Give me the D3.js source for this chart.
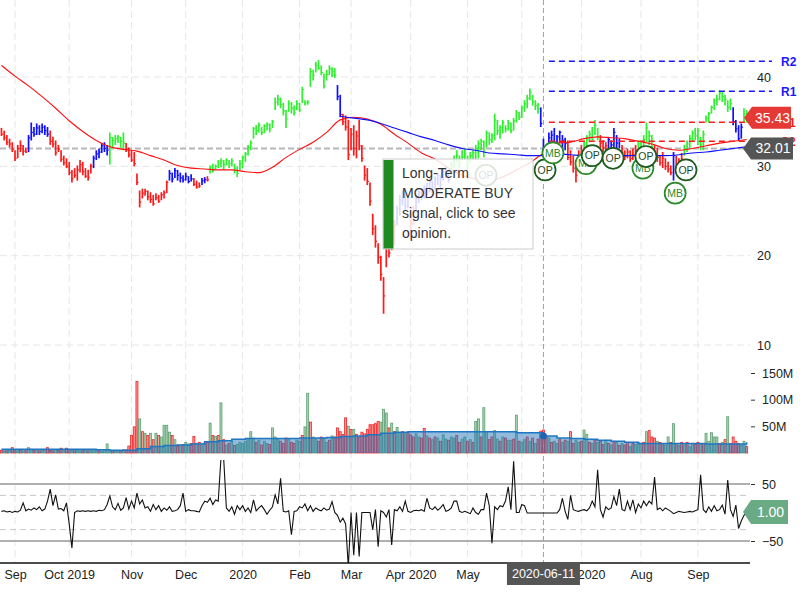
<!DOCTYPE html>
<html><head><meta charset="utf-8">
<script src="https://cdn.jsdelivr.net/npm/d3@7"></script>
<style>
body{margin:0;background:#fff;}
svg{display:block;font-family:"Liberation Sans",Arial,sans-serif;}
</style></head><body>
<svg id="c" width="800" height="600"></svg>
<script>
// ---------- DATA ----------
const monthTickIdx = [5,25,48,68,89,110,129,151,172,192,214,236,257];
// "Jun" sits under the crosshair date tag in the reference, so it is not shown
const monthTickLabels = ["Sep","Oct 2019","Nov","Dec","2020","Feb","Mar","Apr 2020","May","","Jul 2020","Aug","Sep"];
const priceTicks = [10,20,30,40];
const volTicks = [50,100,150];
const oscTicks = [-50,50];
const oscDashed = [-30,30];

const high = [34.3,34.0,33.5,33.1,32.7,31.8,32.4,32.9,32.4,32.1,
33.5,34.9,34.4,34.8,34.6,34.8,34.6,34.4,34.0,33.3,
32.9,32.4,31.8,31.2,30.9,30.5,29.6,29.8,30.1,30.7,
30.5,29.8,29.6,30.3,31.2,31.8,32.0,32.6,32.7,32.4,
33.8,33.3,33.5,33.5,33.3,33.8,32.6,32.1,31.8,31.6,
29.2,27.3,27.5,27.5,27.3,27.1,26.8,27.0,26.8,27.1,
27.3,28.4,29.6,29.3,29.8,29.6,29.3,29.0,29.3,28.9,
29.1,28.7,28.4,28.2,28.7,28.8,28.9,30.1,30.3,30.2,
30.7,30.9,30.7,30.9,30.7,30.9,30.3,30.0,30.7,31.2,
31.6,32.4,32.9,34.4,34.6,34.9,34.4,34.7,34.9,34.8,
35.2,37.7,38.0,37.7,37.1,36.3,37.4,37.2,36.8,37.4,
37.1,38.9,37.4,37.4,41.0,40.8,41.7,41.9,41.3,40.4,
40.8,41.3,41.1,41.0,39.1,38.0,35.9,35.7,35.2,34.3,
34.6,34.0,35.2,32.4,30.1,29.8,28.2,24.7,23.4,21.4,
20.0,17.6,22.8,22.3,22.5,24.0,25.6,26.8,27.3,27.0,
26.8,24.7,25.6,26.8,27.3,27.5,27.9,28.2,28.7,28.4,
28.9,29.3,29.0,29.8,30.0,29.6,30.5,31.2,31.8,31.2,
31.8,32.0,31.2,31.6,31.8,32.4,32.9,33.1,32.9,34.0,
33.8,33.7,35.9,35.2,34.6,35.2,34.6,35.2,34.9,35.4,
36.3,36.1,36.8,37.4,38.0,38.7,38.0,37.4,37.1,36.6,
33.1,32.4,33.8,34.0,34.3,33.5,34.0,33.5,33.2,32.9,
31.8,31.2,30.7,31.8,32.4,32.9,33.5,34.0,34.4,35.2,
34.3,33.5,32.9,32.7,33.3,32.9,34.3,33.5,33.1,32.4,
31.8,32.0,31.8,32.0,32.4,32.9,32.9,33.5,34.9,34.0,
33.5,32.4,32.1,31.2,31.6,30.9,30.5,30.1,31.6,31.2,
30.9,31.5,32.4,32.9,33.5,34.0,34.3,34.3,33.3,34.0,
35.7,36.1,36.8,37.6,38.0,38.5,38.3,38.0,37.4,37.6,
36.6,35.2,34.6,34.8,36.5,36.3];
const low = [33.4,32.9,32.4,32.1,31.6,30.6,30.9,31.6,31.2,31.5,
31.6,32.9,33.3,33.5,33.5,33.7,33.5,33.3,32.4,32.1,
31.2,31.6,30.5,30.1,29.8,29.0,28.2,28.7,28.4,29.3,
29.0,28.7,28.4,29.2,29.8,30.7,30.9,31.5,31.6,31.2,
30.2,32.1,32.4,32.6,32.1,31.8,31.6,31.0,30.5,30.0,
27.9,25.4,26.4,26.7,26.2,25.9,25.6,26.2,25.9,26.2,
26.4,27.0,28.4,28.2,28.7,28.4,28.2,28.2,28.4,28.1,
28.3,27.8,27.5,27.6,27.9,28.1,28.3,29.2,29.3,29.6,
29.8,29.9,29.6,30.1,29.8,30.0,29.2,28.8,29.6,29.8,
30.5,31.2,31.8,33.1,33.5,33.8,33.5,33.7,34.0,33.8,
34.3,36.3,36.8,36.5,35.7,34.3,36.1,35.9,35.7,36.3,
36.1,37.1,36.8,36.9,38.9,39.6,40.5,40.8,40.2,38.7,
39.6,40.2,40.0,39.9,37.4,35.5,34.6,34.0,30.7,31.8,
31.2,30.9,31.8,30.5,28.4,27.9,25.6,22.3,20.9,19.1,
17.2,13.5,18.7,19.8,20.6,21.2,23.4,24.5,25.6,25.1,
25.3,21.7,23.4,25.1,25.9,26.2,26.4,26.8,27.1,26.8,
27.3,27.9,27.5,28.4,28.7,28.2,29.0,29.8,30.5,29.8,
30.7,30.7,29.6,30.5,30.7,30.7,30.9,31.8,31.0,32.1,
32.4,32.6,32.9,33.5,33.1,33.7,33.8,34.0,33.7,34.0,
34.9,35.2,35.4,36.1,36.5,37.4,36.8,36.3,35.9,34.4,
31.0,30.7,31.8,32.7,32.4,32.0,32.6,32.0,31.8,30.7,
30.1,29.3,28.2,30.1,30.7,31.2,31.8,32.7,32.9,33.5,
32.9,32.0,31.6,31.6,31.8,31.6,32.1,31.8,32.0,31.0,
30.7,30.9,30.5,30.7,31.2,31.2,31.6,31.8,32.7,32.4,
31.8,30.9,30.5,30.1,29.8,29.6,29.3,29.0,28.4,29.8,
29.8,30.1,31.2,31.6,32.0,32.7,32.9,32.4,31.8,31.8,
34.9,34.9,35.9,36.3,36.8,37.4,37.2,36.8,36.1,36.3,
34.6,33.8,32.9,33.1,34.9,34.9];
const close = [33.6,33.2,32.7,32.5,31.9,30.9,32.0,32.3,31.7,31.6,
33.2,33.8,33.6,34.3,33.9,34.4,34.0,33.6,32.8,32.5,
31.5,31.9,30.8,30.4,30.0,29.3,28.6,29.0,29.6,30.2,
29.4,28.9,28.8,30.0,30.9,31.4,31.6,32.3,32.0,31.8,
33.2,32.9,33.1,33.3,32.8,32.6,31.9,31.3,30.7,30.3,
28.2,26.0,27.0,27.2,26.6,26.3,25.8,26.5,26.1,26.8,
27.0,28.2,29.2,28.6,29.5,29.0,28.7,28.5,28.9,28.3,
28.6,28.0,27.7,27.8,28.4,28.5,28.5,29.8,29.6,30.0,
30.4,30.6,30.2,30.7,30.3,30.6,29.8,29.2,30.3,31.0,
31.4,32.1,32.6,34.2,34.0,34.6,33.8,34.5,34.7,34.2,
35.0,37.2,37.5,36.9,36.2,35.3,37.0,36.5,36.0,37.0,
36.3,38.6,37.1,37.2,40.6,40.2,41.3,41.0,40.5,39.0,
40.3,40.9,40.6,40.2,37.8,35.8,35.0,34.4,31.3,33.6,
32.0,33.4,32.3,30.9,29.0,28.3,26.1,23.0,21.6,19.8,
17.9,15.5,21.2,20.3,21.9,23.4,25.2,26.1,26.8,25.6,
26.5,23.6,24.8,26.4,27.0,26.6,27.4,27.6,28.3,27.2,
28.6,29.0,28.0,29.4,29.1,28.5,30.1,30.8,31.2,30.3,
31.0,31.4,30.4,31.2,31.5,32.0,32.5,32.8,31.6,33.7,
33.0,33.4,35.2,34.0,34.3,34.9,34.2,34.8,34.0,35.1,
36.0,35.5,36.5,37.0,37.6,38.3,37.2,36.8,36.4,34.8,
32.01,31.2,33.2,33.5,32.7,33.3,33.8,32.9,32.6,31.0,
30.5,29.8,29.0,31.0,31.6,32.5,33.0,33.6,33.0,34.6,
33.3,32.6,32.1,32.3,33.0,32.4,33.8,32.6,32.8,31.5,
31.1,31.6,30.9,31.3,31.8,32.5,32.2,33.0,34.3,33.4,
32.8,31.5,31.0,30.4,30.9,30.0,29.7,29.3,31.2,30.3,
30.0,30.8,31.9,32.5,33.1,33.7,33.4,34.0,32.4,33.6,
35.4,35.9,36.6,37.4,37.5,38.2,37.8,37.5,36.6,37.0,
35.0,34.2,33.1,34.4,35.9,35.43];
const barColorRuns = [["r",10],["b",8],["r",16],["b",6],["g",6],["r",16],["b",9],["r",3],["b",2],["r",1],
["g",47],["b",2],["r",20],["b",5],["r",2],["b",13],["g",33],["b",10],["r",6],["g",6],["r",3],["b",5],
["r",6],["g",6],["r",7],["b",1],["r",3],["g",18],["b",4],["g",2]];

const volume = [5,4,6,5,10,6,4,5,4,6, 10,7,5,6,4,5,7,10,5,4, 6,5,9,6,9,7,5,6,5,4,
6,5,4,5,6,4,5,3,4,17, 5,4,3,5,4,6,6,13,33,49, 134,64,40,37,33,37,25,37,33,30,
52,52,39,33,25,15,14,16,20,17, 18,31,18,20,17,19,20,56,33,31, 33,94,25,15,18,22,14,16,20,18,
22,25,40,28,20,24,15,22,18,16, 47,30,25,22,18,28,25,20,18,24, 22,33,49,112,58,30,25,22,30,28,
20,24,32,30,47,40,35,66,50,44, 44,35,30,39,36,44,53,53,55,59, 58,82,75,47,56,40,48,38,40,36,
38,34,30,36,30,28,46,32,28,25, 30,28,22,34,26,24,30,28,33,20, 26,30,22,25,20,59,64,30,85,40,
25,30,42,26,22,30,28,24,24,26, 71,22,20,25,30,22,28,18,26,41, 43,30,28,20,22,18,25,20,24,22,
40,18,24,20,22,43,35,20,18,24, 20,22,16,24,18,15,22,20,14,18, 15,20,12,18,16,20,18,20,40,42,
30,28,22,20,18,15,30,20,55,18, 14,20,15,20,12,18,16,20,16,18, 37,22,38,30,30,18,20,25,68,18,
30,22,18,14,22,12];
const volumeUpDown = "rgrgrrgrgr"+"ggrgrggrrr"+"grrgrrgrgg"+"rgrgggrggg"+"grggrgrrrr"+"rgrgrgrgrg"+
"gggrgrgrgg"+"rrgrggrgrg"+"rgrgrgrggg"+"ggggrgrggr"+"gggrrrgrrg"+"grggrggrrg"+"grgrrrrrgr"+
"grrrrrrrrr"+"gggrgrggrg"+"rrrggrrgrg"+"rgrggrggrr"+"ggrgrggrgg"+"rrggrgrggr"+"grggrgrgrr"+
"rrgrggrgrg"+"rrggrggrgr"+"grrgrgrgrg"+"rrgrgggrgr"+"rrgrrggrgr"+"grgrggrrgr"+"gggggrgrgr"+"rrrggr";
const sampleStep = 5;
const avgVolume = [7,7,7,7,7,7,7,6,5,5, 8,12,14,15,17,21,23,26,27,27, 27,27,28,28,29,31,32,34,37,39,
40,40,40,40,40,40,40,40,38,38, 32,28,27,26,24,22,20,18,18,18, 18,18,17,17,17,20];
const maShort = [41.3,40.1,39.0,37.8,36.5,35.1,33.9,32.9,32.2,31.9, 31.7,31.2,30.7,30.1,29.8,29.7,29.6,29.6,29.4,29.3,
29.9,31.0,31.9,32.7,33.8,35.2,35.5,35.3,34.7,33.6, 32.6,31.5,30.8,29.8,29.0,28.6,28.4,28.8,29.6,30.4,
31.5,32.6,32.7,33.1,33.3,33.2,33.1,32.8,32.5,32.0, 31.8,32.0,32.3,32.6,32.8,33.0];
const maLongStart = 125;
const maLong = [35.6,35.4,35.2,34.8,34.3,33.8,33.3,32.9,32.4,32.0,31.8,31.5,31.4,31.3,31.2,31.2,31.4,31.3,31.2,31.2,
31.2,31.2,31.2,31.2,31.2,31.3,31.5,31.6,31.8,32.0,32.2];
const osc = [2,3,1,2,0,2,1,4,17,3, 6,4,8,5,10,3,6,20,41,12, 31,6,7,3,17,-20,-62,0,3,2,
3,2,3,2,3,2,4,3,5,14, 29,10,5,16,4,8,26,6,20,8, 34,15,22,8,10,2,14,5,12,2,
8,4,10,2,3,5,12,34,2,5, 3,3,2,1,12,20,18,25,14,22, 20,95,95,8,2,10,-3,12,5,12,
2,8,0,22,3,8,12,5,-3,4, 10,31,15,60,2,1,3,-39,2,3, 10,8,15,3,12,2,8,5,3,8,
4,6,19,0,-5,-17,-10,-20,-95,0, -75,0,-77,0,0,0,0,-30,5,-60, 3,0,-8,5,-57,5,3,10,2,20,
2,0,3,4,3,5,2,25,8,5, 10,4,8,14,2,4,8,20,20,2, 0,2,0,-2,8,0,-3,5,5,34,
12,-54,10,5,12,10,20,45,5,90, 0,0,14,12,-1,-1,-1,-1,-1,-1, -1,-1,-1,-1,-1,-1,5,25,2,-12,
30,5,3,2,4,5,3,8,20,10, 75,5,-8,10,5,8,28,12,41,5, 3,20,5,22,0,15,8,20,12,20,
15,62,5,8,3,8,5,2,-2,0, 2,1,0,1,2,1,3,5,66,5, 0,10,2,12,3,5,13,-3,57,5,
-7,13,-28,-15,-5,1];

const markerIdx = [178.8,200.6,203.5,215.7,218,225.7,236.7,237.8,248.6,252.6];
const markerType = ["OP","OP","MB","MB","OP","OP","MB","OP","MB","OP"];
const markerPrice = [29.0,29.6,31.5,30.3,31.2,30.9,29.8,31.1,27.0,29.6];

const levelNames = ["R2","R1","S1","S2"];
const levelValues = [41.77,38.41,34.94,32.81];
const levelKinds = ["R","R","S","S"];
const levelStartIdx = 202;

const crossIdx = 200;
const crossDate = "2020-06-11";
const tipLines = ["Long-Term","MODERATE BUY","signal, click to see","opinion."];

// ---------- SCALES ----------
const svg = d3.select("#c");
const x = d3.scaleLinear().domain([0,275]).range([1.45,746.7]);
const yP = d3.scaleLinear().domain([10,40]).range([345,77]);
const yV = d3.scaleLinear().domain([0,150]).range([453,373]);
const yO = d3.scaleLinear().domain([-50,50]).range([541,484]);
const PLOT_R = 750;
const colors = {r:"#ff1a1a", g:"#2ef02e", b:"#1010ff"};
const barColor = barColorRuns.flatMap(([c,n]) => Array(n).fill(c));

const defs = svg.append("defs");
defs.append("clipPath").attr("id","oscClip").append("rect").attr("x",0).attr("y",460).attr("width",PLOT_R).attr("height",103);

// ---------- GRID ----------
const grid = svg.append("g");
grid.selectAll(".vg").data(monthTickIdx).join("line")
  .attr("x1",d=>x(d)).attr("x2",d=>x(d)).attr("y1",0).attr("y2",563)
  .attr("stroke","#e6e6e6").attr("stroke-dasharray","7,4");
grid.selectAll(".hg").data(priceTicks).join("line")
  .attr("x1",0).attr("x2",PLOT_R).attr("y1",d=>yP(d)).attr("y2",d=>yP(d))
  .attr("stroke","#e6e6e6").attr("stroke-dasharray","7,4");
grid.selectAll(".og").data(oscTicks).join("line")
  .attr("x1",0).attr("x2",PLOT_R).attr("y1",d=>yO(d)).attr("y2",d=>yO(d))
  .attr("stroke","#b0b0b0").attr("stroke-width",2);
grid.selectAll(".od").data(oscDashed).join("line")
  .attr("x1",0).attr("x2",PLOT_R).attr("y1",d=>yO(d)).attr("y2",d=>yO(d))
  .attr("stroke","#c8c8c8").attr("stroke-dasharray","6,4");

// crosshair
svg.append("line").attr("x1",x(crossIdx)).attr("x2",x(crossIdx)).attr("y1",0).attr("y2",563)
  .attr("stroke","#a0a0a0").attr("stroke-dasharray","5,3");
svg.append("line").attr("x1",0).attr("x2",PLOT_R).attr("y1",yP(close[crossIdx])).attr("y2",yP(close[crossIdx]))
  .attr("stroke","#b8b8b8").attr("stroke-width",2).attr("stroke-dasharray","6,3");

// ---------- VOLUME ----------
const vg = svg.append("g");
vg.selectAll("rect").data(volume).join("rect")
  .attr("x",(d,i)=>x(i)-1).attr("width",2)
  .attr("y",d=>yV(d)).attr("height",d=>yV(0)-yV(d))
  .attr("fill",(d,i)=>volumeUpDown[i]==="g"?"rgba(150,205,165,0.85)":"rgba(255,120,120,0.75)")
  .attr("stroke",(d,i)=>volumeUpDown[i]==="g"?"#5f9f72":"#ee2222").attr("stroke-width",0.8);
const avgPts = avgVolume.map((v,i)=>[i*sampleStep,v]);
vg.append("path").datum(avgPts)
  .attr("d",d3.area().x(d=>x(d[0])).y0(yV(0)).y1(d=>yV(d[1])).curve(d3.curveStepAfter))
  .attr("fill","rgba(40,120,190,0.5)");
vg.append("path").datum(avgPts)
  .attr("d",d3.line().x(d=>x(d[0])).y(d=>yV(d[1])).curve(d3.curveStepAfter))
  .attr("fill","none").attr("stroke","#1f77c4").attr("stroke-width",1.5);
vg.append("circle").attr("cx",x(crossIdx)).attr("cy",yV(avgVolume[crossIdx/sampleStep])).attr("r",3.5).attr("fill","#1f66b0");

// ---------- OSCILLATOR ----------
svg.append("path").datum(osc).attr("clip-path","url(#oscClip)")
  .attr("d",d3.line().x((d,i)=>x(i)).y(d=>yO(d)))
  .attr("fill","none").attr("stroke","#111").attr("stroke-width",1.1);

// ---------- PRICE BARS ----------
const pg = svg.append("g");
pg.selectAll("line.hl").data(high).join("line")
  .attr("x1",(d,i)=>x(i)).attr("x2",(d,i)=>x(i))
  .attr("y1",d=>yP(d)).attr("y2",(d,i)=>yP(low[i]))
  .attr("stroke",(d,i)=>colors[barColor[i]]).attr("stroke-width",1.7);
pg.selectAll("line.cl").data(close).join("line")
  .attr("x1",(d,i)=>x(i)).attr("x2",(d,i)=>x(i)+1.6)
  .attr("y1",d=>yP(d)).attr("y2",d=>yP(d))
  .attr("stroke",(d,i)=>colors[barColor[i]]).attr("stroke-width",1.2);

// ---------- MOVING AVERAGES ----------
svg.append("path").datum(maShort)
  .attr("d",d3.line().x((d,i)=>x(i*sampleStep)).y(d=>yP(d)).curve(d3.curveMonotoneX))
  .attr("fill","none").attr("stroke","#ff1010").attr("stroke-width",1.1);
svg.append("path").datum(maLong)
  .attr("d",d3.line().x((d,i)=>x(maLongStart+i*sampleStep)).y(d=>yP(d)).curve(d3.curveMonotoneX))
  .attr("fill","none").attr("stroke","#1010ff").attr("stroke-width",1.1);

// ---------- LEVELS ----------
const lg = svg.append("g");
levelValues.forEach((v,i)=>{
  const col = levelKinds[i]==="R" ? "#1818ff" : "#ff1a1a";
  lg.append("line").attr("x1",x(levelStartIdx)).attr("x2",772).attr("y1",yP(v)).attr("y2",yP(v))
    .attr("stroke",col).attr("stroke-width",1.5).attr("stroke-dasharray","6,4");
  lg.append("text").attr("x",781).attr("y",yP(v)).attr("dy","0.36em")
    .attr("font-size",12).attr("font-weight","bold").attr("fill",col).text(levelNames[i]);
});

// ---------- MARKERS ----------
const mg = svg.append("g");
markerIdx.forEach((m,i)=>{
  const isOP = markerType[i]==="OP";
  const g = mg.append("g").attr("transform",`translate(${x(m)},${yP(markerPrice[i])})`);
  g.append("circle").attr("r",10.5).attr("fill","#fff")
    .attr("stroke",isOP?"#1d5a1d":"#2a8a2a").attr("stroke-width",1.7);
  g.append("text").attr("text-anchor","middle").attr("dy","0.36em").attr("font-size",10.5)
    .attr("fill",isOP?"#1d4a1d":"#2a8a2a").text(markerType[i]);
});

// ---------- TOOLTIP ----------
const tg = svg.append("g");
tg.append("rect").attr("x",383).attr("y",159).attr("width",150).attr("height",90)
  .attr("fill","rgba(255,255,255,0.84)").attr("stroke","#cccccc");
tg.append("rect").attr("x",383.5).attr("y",160).attr("width",10).attr("height",88.5).attr("fill","#1f8a1f");
tipLines.forEach((t,i)=>{
  tg.append("text").attr("x",402).attr("y",178+i*20).attr("font-size",14).attr("fill","#333").text(t);
});

// ---------- AXES ----------
const ax = svg.append("g").attr("transform","translate(0,563)")
  .call(d3.axisBottom(x).tickValues(monthTickIdx).tickFormat((d,i)=>monthTickLabels[i]).tickSize(0).tickPadding(7));
ax.select(".domain").remove();
ax.selectAll("text").attr("font-size",12.5).attr("fill","#222").attr("font-family","Liberation Sans, Arial, sans-serif");
svg.append("line").attr("x1",0).attr("x2",PLOT_R).attr("y1",563).attr("y2",563).attr("stroke","#111").attr("stroke-width",1.5);

const ap = svg.append("g").attr("transform","translate(750,0)")
  .call(d3.axisRight(yP).tickValues(priceTicks).tickSize(0).tickPadding(7));
ap.select(".domain").remove();
const av = svg.append("g").attr("transform","translate(751,0)")
  .call(d3.axisRight(yV).tickValues(volTicks).tickFormat(d=>d+"M").tickSize(4).tickPadding(7));
av.select(".domain").remove();
const ao = svg.append("g").attr("transform","translate(751,0)")
  .call(d3.axisRight(yO).tickValues(oscTicks).tickSize(4).tickPadding(7));
ao.select(".domain").remove();
[ap,av,ao].forEach(a=>{
  a.selectAll("text").attr("font-size",12.5).attr("fill","#222").attr("font-family","Liberation Sans, Arial, sans-serif");
  a.selectAll("line").attr("stroke","#333");
});

// ---------- TAGS ----------
function tag(yc, label, fill, tipX, right, h){
  const bx = tipX+8;
  svg.append("path")
    .attr("d",`M${tipX},${yc} L${bx},${yc-h/2} L${right},${yc-h/2} L${right},${yc+h/2} L${bx},${yc+h/2} Z`)
    .attr("fill",fill);
  svg.append("text").attr("x",(bx+right)/2+1).attr("y",yc).attr("dy","0.36em").attr("text-anchor","middle")
    .attr("font-size",14).attr("fill","#fff").text(label);
}
tag(yP(close[close.length-1]), close[close.length-1].toFixed(2), "#e53935", 744, 791, 22);
tag(yP(close[crossIdx]), close[crossIdx].toFixed(2), "#555555", 743, 793, 22);
tag(yO(osc[osc.length-1]), osc[osc.length-1].toFixed(2), "#6aaa84", 743, 788, 24);

svg.append("rect").attr("x",x(crossIdx)-36.5).attr("y",562).attr("width",73).attr("height",23).attr("fill","#555");
svg.append("text").attr("x",x(crossIdx)).attr("y",573.5).attr("dy","0.36em").attr("text-anchor","middle")
  .attr("font-size",12.5).attr("fill","#fff").text(crossDate);
</script>
</body></html>
